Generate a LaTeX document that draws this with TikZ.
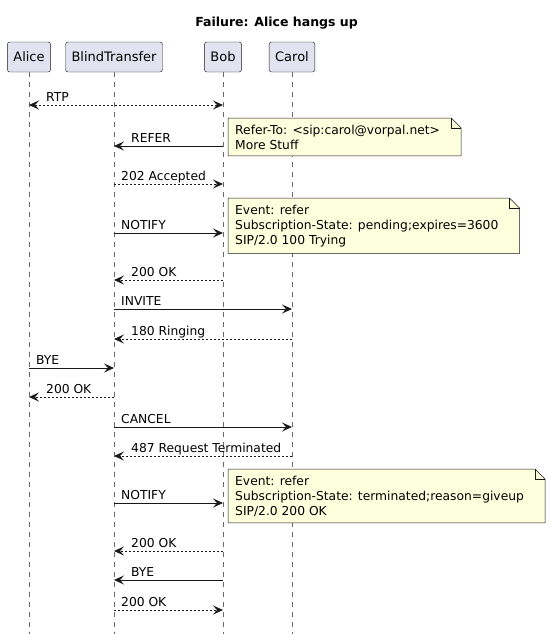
\documentclass[tikz,border=0pt]{standalone}
\usepackage{fontspec}
\setmainfont{DejaVu Sans}
\usetikzlibrary{arrows.meta,calc,backgrounds}

\definecolor{partfill}{HTML}{E2E2F0}
\definecolor{notefill}{HTML}{FEFFDD}
\definecolor{umlline}{HTML}{181818}

\tikzset{
  part/.style={draw=umlline,fill=partfill,rounded corners=2.5pt,minimum height=30pt,
    inner xsep=6pt,font=\fontsize{13}{15}\selectfont},
  life/.style={draw=umlline!65,line width=0.5pt,dash pattern=on 5pt off 5pt},
  tip/.tip={Stealth[length=10pt,width=9pt,inset=4pt]},
  call/.style={-tip,line width=0.8pt,draw=umlline},
  reply/.style={call,dash pattern=on 2pt off 2pt},
  both/.style={reply,tip-tip},
  lbl/.style={anchor=base west,inner sep=0pt,font=\fontsize{12.3}{14}\selectfont},
  notetext/.style={anchor=north west,align=left,inner xsep=7pt,inner ysep=6.5pt,
    font=\fontsize{12.3}{15}\selectfont},
  notebox/.style={draw=umlline,fill=notefill,line width=0.5pt}
}

% message to the right: name, style, from, to, y, label
\newcommand\msgto[6]{%
  \draw[#2] (#3 |- 0,#5) -- (#4 |- 0,#5);
  \node[lbl] (#1) at ([xshift=7pt]#3 |- 0,#5-4) {#6};}
% message to the left: label sits past the arrow head
\newcommand\msgback[6]{%
  \draw[#2] (#3 |- 0,#5) -- (#4 |- 0,#5);
  \node[lbl] (#1) at ([xshift=17pt]#4 |- 0,#5-4) {#6};}
% note with folded corner: name, top, text
\newcommand\umlnote[3]{%
  \node[notetext] (#1) at (228,#2) {#3};
  \begin{scope}[on background layer]
    \draw[notebox] (#1.north west) -- ([xshift=4pt]#1.north east)
      -- ([shift={(14,10)}]#1.north east)
      -- ([xshift=14pt]#1.south east) -- (#1.south west) -- cycle;
    \draw[notebox,fill=none] ([xshift=4pt]#1.north east)
      -- ([shift={(4,10)}]#1.north east) -- ([shift={(14,10)}]#1.north east);
  \end{scope}}

\begin{document}
\begin{tikzpicture}[x=1pt,y=-1pt]
\useasboundingbox (0,0) rectangle (553,634);
\node[font=\bfseries\fontsize{12.5}{15}\selectfont] (title) at (276.5,23) {Failure: Alice hangs up};

% participants
\node[part] (alice) at (29,57) {Alice};
\node[part] (bt) at (114,57) {BlindTransfer};
\node[part] (bob) at (223,57) {Bob};
\node[part] (carol) at (292,57) {Carol};
\coordinate (bottom) at (0,634);
\begin{scope}[on background layer]
\foreach \p in {alice,bt,bob,carol}
  \draw[life] (\p.south) -- (\p |- bottom);
\end{scope}

% messages
\msgback{rtp}{both}{bob}{alice}{105}{RTP}
\msgback{refer}{call}{bob}{bt}{146}{REFER}
\umlnote{refernote}{118}{Refer-To: <sip:carol@vorpal.net>\\More Stuff}
\msgto{accepted}{reply}{bt}{bob}{184}{202 Accepted}
\msgto{notify}{call}{bt}{bob}{233}{NOTIFY}
\umlnote{pendingnote}{198}{Event: refer\\Subscription-State: pending;expires=3600\\SIP/2.0 100 Trying}
\msgback{notifyok}{reply}{bob}{bt}{280}{200 OK}
\msgto{invite}{call}{bt}{carol}{309}{INVITE}
\msgback{ringing}{reply}{carol}{bt}{339}{180 Ringing}
\msgto{alicebye}{call}{alice}{bt}{368}{BYE}
\msgback{alicebyeok}{reply}{bt}{alice}{397}{200 OK}
\msgto{cancel}{call}{bt}{carol}{427}{CANCEL}
\msgback{terminated}{reply}{carol}{bt}{456}{487 Request Terminated}
\msgto{notifyend}{call}{bt}{bob}{503}{NOTIFY}
\umlnote{giveupnote}{469}{Event: refer\\Subscription-State: terminated;reason=giveup\\SIP/2.0 200 OK}
\msgback{notifyendok}{reply}{bob}{bt}{551}{200 OK}
\msgback{bobbye}{call}{bob}{bt}{580}{BYE}
\msgto{bobbyeok}{reply}{bt}{bob}{610}{200 OK}
\end{tikzpicture}
\end{document}
